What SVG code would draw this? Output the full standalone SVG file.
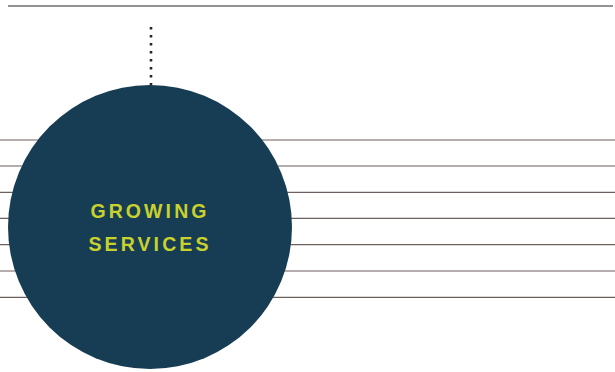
<svg xmlns="http://www.w3.org/2000/svg" width="615" height="372" viewBox="0 0 615 372">
<style>
.rule{stroke:#6b605d;stroke-width:1.2}
.top{stroke:#2a2424;stroke-width:1.2}
.lbl{font-family:"Liberation Sans",Arial,sans-serif;font-weight:bold;font-size:19.5px;fill:#c9d12c;letter-spacing:3.1px;text-anchor:middle}
</style>
<rect width="615" height="372" fill="#ffffff"/>
<g id="rules">
<line class="top" x1="8" y1="6" x2="613" y2="6"/>
<line class="rule" x1="0" y1="140" x2="615" y2="140"/>
<line class="rule" x1="0" y1="166" x2="615" y2="166"/>
<line class="rule" x1="0" y1="192.3" x2="615" y2="192.3"/>
<line class="rule" x1="0" y1="218.3" x2="615" y2="218.3"/>
<line class="rule" x1="0" y1="244.7" x2="615" y2="244.7"/>
<line class="rule" x1="0" y1="271" x2="615" y2="271"/>
<line class="rule" x1="0" y1="297.3" x2="615" y2="297.3"/>
</g>
<g id="connectors">
<line x1="151" y1="27" x2="151" y2="87" stroke="#2a2424" stroke-width="2.6" stroke-dasharray="2.6 5.4" stroke-linecap="butt"/>
</g>
<g id="growing-services">
<circle cx="150" cy="227" r="142" fill="#173d55"/>
<text class="lbl" x="150" y="217.5">GROWING</text>
<text class="lbl" x="150" y="250.5">SERVICES</text>
</g>
</svg>
